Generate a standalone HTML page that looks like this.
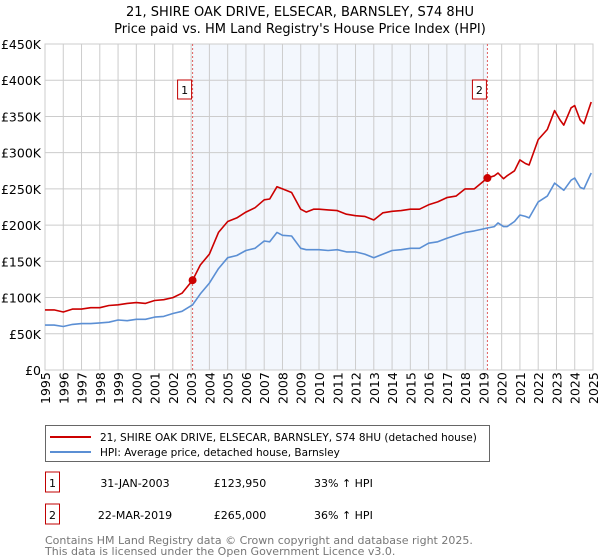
<!DOCTYPE html>
<html><head><meta charset="utf-8"><style>
body{margin:0;background:#fff;font-family:"Liberation Sans","DejaVu Sans",sans-serif;}
#wrap{position:relative;width:600px;height:560px;overflow:hidden;}
text{font-family:"DejaVu Sans","Liberation Sans",sans-serif;}
</style></head><body><div id="wrap">
<svg id="chart" width="600" height="560"></svg>
</div>
<script>
const yearTicks=[1995,1996,1997,1998,1999,2000,2001,2002,2003,2004,2005,2006,2007,2008,2009,2010,2011,2012,2013,2014,2015,2016,2017,2018,2019,2020,2021,2022,2023,2024,2025];
const priceTicks=[0,50000,100000,150000,200000,250000,300000,350000,400000,450000];
const priceTickLabels=["£0","£50K","£100K","£150K","£200K","£250K","£300K","£350K","£400K","£450K"];
const redX=[1995,1995.5,1996,1996.5,1997,1997.5,1998,1998.5,1999,1999.5,2000,2000.5,2001,2001.5,2002,2002.5,2003.08,2003.5,2004,2004.5,2005,2005.5,2006,2006.5,2007,2007.3,2007.7,2008,2008.5,2009,2009.3,2009.7,2010,2010.5,2011,2011.5,2012,2012.5,2013,2013.5,2014,2014.5,2015,2015.5,2016,2016.5,2017,2017.5,2018,2018.5,2019.22,2019.6,2019.8,2020.1,2020.3,2020.7,2021,2021.3,2021.5,2022,2022.5,2022.9,2023.2,2023.4,2023.8,2024,2024.3,2024.5,2024.9];
const redY=[83,83,80,84,84,86,86,89,90,92,93,92,96,97,100,106,124,145,160,190,205,210,218,224,235,236,253,250,245,222,218,222,222,221,220,215,213,212,207,217,219,220,222,222,228,232,238,240,250,250,265,268,272,264,268,275,290,285,283,318,332,358,345,338,362,365,345,340,370];
const blueY=[62,62,60,63,64,64,65,66,69,68,70,70,73,74,78,81,90,105,120,140,155,158,165,168,178,177,190,186,185,168,166,166,166,165,166,163,163,160,155,160,165,166,168,168,175,177,182,186,190,192,196,198,203,198,198,205,214,212,210,232,240,258,252,248,262,265,252,250,272];
const sales=[{x:2003.08,v:123950,l:"1"},{x:2019.22,v:265000,l:"2"}];

const L=45,R=593,T=44,B=370;
const xs=y=>L+(y-1995)*(R-L)/30;
const ys=v=>B-v*(B-T)/450000;
const svg=document.getElementById('chart');
const NS="http://www.w3.org/2000/svg";
function mk(tag,attrs,parent){const e=document.createElementNS(NS,tag);for(const k in attrs)e.setAttribute(k,attrs[k]);(parent||svg).appendChild(e);return e;}
function tx(str,attrs,name){const e=mk('text',attrs);e.textContent=str;

return e;}

tx("21, SHIRE OAK DRIVE, ELSECAR, BARNSLEY, S74 8HU",{x:300,y:16,'text-anchor':'middle','font-size':13,fill:'#000'},'chart-title');
tx("Price paid vs. HM Land Registry's House Price Index (HPI)",{x:300,y:33,'text-anchor':'middle','font-size':13,fill:'#000'},'chart-subtitle');

let sh=mk('rect',{x:xs(2003.08),y:T,width:xs(2019.22)-xs(2003.08),height:B-T,fill:'#eef3fc',opacity:0.7});



yearTicks.forEach(y=>{let g=mk('line',{x1:xs(y),x2:xs(y),y1:T,y2:B,stroke:'#ccc','stroke-width':1});


tx(String(y),{x:0,y:0,transform:`translate(${xs(y)+5},${B+34}) rotate(-90)`,'font-size':12.5,fill:'#000'},'x-tick-label');});
priceTicks.forEach((v,i)=>{let g=mk('line',{x1:L,x2:R,y1:ys(v),y2:ys(v),stroke:'#ccc','stroke-width':1});


tx(priceTickLabels[i],{x:L-4,y:ys(v)+5,'text-anchor':'end','font-size':12.5,fill:'#000'},'y-tick-label');});
let fr=mk('rect',{x:L,y:T,width:R-L,height:B-T,fill:'none',stroke:'#ccc'});



sales.forEach(s=>{let l=mk('line',{x1:xs(s.x),x2:xs(s.x),y1:T,y2:B,stroke:'#e06060','stroke-width':1,'stroke-dasharray':'2,2'});


let b=mk('rect',{x:xs(s.x)-15,y:80,width:14,height:19,fill:'#fff',stroke:'#c00000'});


tx(s.l,{x:xs(s.x)-8,y:94,'text-anchor':'middle','font-size':11,fill:'#000'},'sale-label');});

function path(X,Y,col,name){let d=X.map((x,i)=>(i?'L':'M')+xs(x).toFixed(1)+','+ys(Y[i]*1000).toFixed(1)).join('');
let p=mk('path',{d,fill:'none',stroke:col,'stroke-width':1.6,'stroke-linejoin':'round'});

}
path(redX,blueY,'#5b8fd4','hpi-line');
path(redX,redY,'#cc0000','property-line');
sales.forEach(s=>{let c=mk('circle',{cx:xs(s.x),cy:ys(s.v),r:4,fill:'#cc0000'});

});

let lg=mk('rect',{x:45.5,y:425.5,width:444,height:36,fill:'#fff',stroke:'#666'});


let l1=mk('line',{x1:50,x2:91,y1:437,y2:437,stroke:'#cc0000','stroke-width':2});


let l2=mk('line',{x1:50,x2:91,y1:452,y2:452,stroke:'#5b8fd4','stroke-width':2});


tx("21, SHIRE OAK DRIVE, ELSECAR, BARNSLEY, S74 8HU (detached house)",{x:100,y:441,'font-size':10.5,fill:'#000'},'legend-entry-property');
tx("HPI: Average price, detached house, Barnsley",{x:100,y:456,'font-size':10.5,fill:'#000'},'legend-entry-hpi');

const rows=[["1","31-JAN-2003","£123,950","33% ↑ HPI",483],["2","22-MAR-2019","£265,000","36% ↑ HPI",515]];
rows.forEach(r=>{let b=mk('rect',{x:45.5,y:r[4]-11,width:14,height:20,fill:'#fff',stroke:'#c00000'});


tx(r[0],{x:52.5,y:r[4]+4,'text-anchor':'middle','font-size':11,fill:'#000'},'table-marker');
tx(r[1],{x:135,y:r[4]+4,'text-anchor':'middle','font-size':11,fill:'#000'},'table-date');
tx(r[2],{x:240,y:r[4]+4,'text-anchor':'middle','font-size':11,fill:'#000'},'table-price');
tx(r[3],{x:314,y:r[4]+4,'font-size':11,fill:'#000'},'table-hpi-change');});
tx("Contains HM Land Registry data © Crown copyright and database right 2025.",{x:45,y:544,'font-size':11,fill:'#777'},'footer-copyright');
tx("This data is licensed under the Open Government Licence v3.0.",{x:45,y:555,'font-size':11,fill:'#777'},'footer-licence');
</script></body></html>
